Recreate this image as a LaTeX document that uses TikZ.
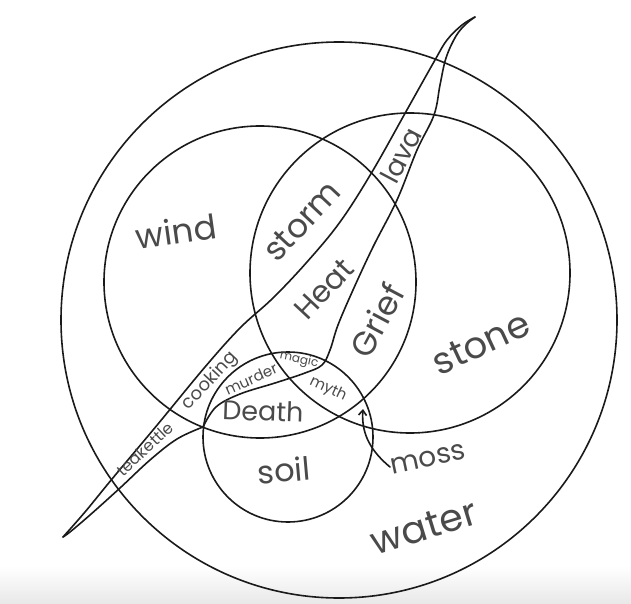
\documentclass[tikz,border=0pt]{standalone}
\usepackage{fontspec}
\setsansfont{Poppins}
\usetikzlibrary{arrows.meta}
\definecolor{skink}{HTML}{1A1A1A}
\definecolor{skpencil}{HTML}{4A4A4A}
\newcommand{\fsz}[1]{\fontsize{#1}{#1}\selectfont}

\begin{document}
\begin{tikzpicture}[
    x=1pt, y=-1pt,
    line width=1.6pt,
    ring/.style={draw=skink},
    edge/.style={draw=skink, line join=round, line cap=round},
    word/.style={text=skpencil, font=\sffamily\fsz{#1}, inner sep=0pt},
  ]
  \useasboundingbox (0,0) rectangle (631,604);
  % ===== shadow of the photo =====
  \shade[top color=white, bottom color=black!9] (0,566) rectangle (631,604);

  % ===== circles =====
  \draw[ring] (339,320) circle (278pt); % water
  \draw[ring] (260,282) circle (156pt); % wind
  \draw[ring] (410,273) circle (160pt); % stone
  \draw[ring] (288,437) circle (85pt);  % soil

  % ===== the fire band =====
  \draw[edge] plot[smooth, tension=0.6] coordinates {(63,537) (85,512) (112,479)
    (158,424) (205,367) (240,328) (273,298) (307,262) (340,222) (372,172)
    (408,108) (435,60) (447,40) (462,25) (475,17)};
  \draw[edge] plot[smooth, tension=0.6] coordinates {(475,17) (466,24) (456,36)
    (446,58) (440,85) (434,115) (417,150) (397,200) (373,247) (353,290)
    (338,325) (330,350) (322,365) (305,373) (275,383) (240,394) (216,407)
    (203,427)};
  \draw[edge] plot[smooth, tension=0.6] coordinates {(203,427) (177,439)
    (150,460) (120,488) (90,515) (70,532) (63,537)};

  % ===== labels =====
  \node[word=34, rotate=8]   (wind)   at (176,231) {wind};
  \node[word=33, rotate=47]  (storm)  at (302,221) {storm};
  \node[word=27, rotate=62]  (lava)   at (401,155) {lava};
  \node[word=30, rotate=47]  (heat)   at (324,289) {Heat};
  \node[word=33, rotate=62]  (grief)  at (377,320) {Grief};
  \node[word=37, rotate=25]  (stone)  at (481,343) {stone};
  \node[word=18, rotate=47]  (cook)   at (210,381) {cooking};
  \node[word=15, rotate=24]  (murder) at (251,379) {murder};
  \node[word=12, rotate=-12] (magic)  at (299,360) {magic};
  \node[word=15, rotate=-25] (myth)   at (328,389) {myth};
  \node[word=27, rotate=-2]  (death)  at (263,411) {Death};
  \node[word=32, rotate=5]   (soil)   at (284,470) {soil};
  \node[word=16, rotate=43]  (kettle) at (145,449) {teakettle};
  \node[word=28, rotate=12]  (moss)   at (428,459) {moss};
  \node[word=38, rotate=17]  (water)  at (424,527) {water};

  % ===== moss pointer =====
  \coordinate (mosstip) at (363,409);
  \draw[edge, -{Straight Barb[length=5pt, width=8pt]}]
    (moss.west) .. controls (372,452) and (361,435) .. (mosstip);
\end{tikzpicture}
\end{document}
